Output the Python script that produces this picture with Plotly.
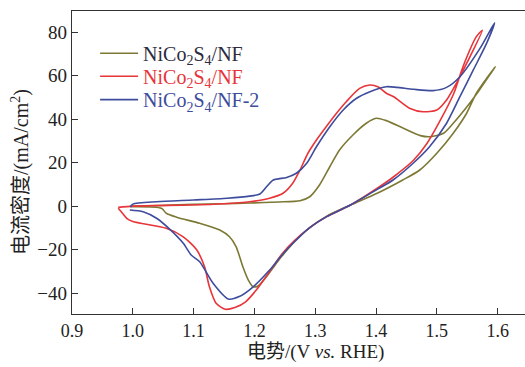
import plotly.graph_objects as go

# Curve 1: NiCo2S4/NF (olive) - closed CV loop, forward then reverse
x_a = [0.996, 1.047, 1.10, 1.15, 1.192, 1.24, 1.275, 1.291, 1.307, 1.324, 1.340, 1.362, 1.384, 1.40, 1.417,
       1.445, 1.473, 1.489, 1.511, 1.527, 1.554, 1.57, 1.596,
       1.565, 1.549, 1.527, 1.50, 1.472, 1.444, 1.402, 1.358, 1.319, 1.29, 1.265, 1.245, 1.23, 1.218, 1.206,
       1.198, 1.19, 1.181, 1.17, 1.159, 1.143, 1.11, 1.072, 1.055, 1.047, 0.996]
y_a = [0.0, 0.4, 0.9, 1.2, 1.5, 2.0, 2.6, 4.4, 9.8, 18.2, 25.9, 32.8, 38.2, 40.5, 39.4,
       35.9, 32.5, 32.0, 33.6, 38.2, 47.4, 53.5, 64.2,
       52.0, 42.8, 33.6, 24.4, 16.7, 12.1, 6.0, 0.6, -4.5, -10.0, -16.5, -23.0, -28.5, -33.0, -36.6,
       -37.0, -33.9, -27.8, -18.6, -14.0, -10.9, -7.8, -5.0, -3.2, -0.9, -0.2]

# Curve 2: NiCo2S4/NF (red)
x_b = [0.976, 1.0, 1.094, 1.15, 1.192, 1.225, 1.247, 1.263, 1.275, 1.288, 1.302, 1.318, 1.335, 1.351, 1.373,
       1.39, 1.403, 1.417, 1.429, 1.456, 1.477, 1.50, 1.516, 1.538, 1.549, 1.575,
       1.565, 1.543, 1.528, 1.506, 1.484, 1.462, 1.429, 1.402, 1.358, 1.319, 1.29, 1.265, 1.245, 1.225, 1.203,
       1.185, 1.168, 1.152, 1.137, 1.126, 1.118, 1.105, 1.083, 1.055, 1.0, 0.99, 0.981, 0.976]
y_b = [-0.5, 0.1, 0.6, 1.2, 2.1, 3.7, 6.0, 10.6, 16.7, 24.4, 30.5, 36.6, 42.8, 48.1, 54.2,
       55.8, 55.0, 52.0, 50.4, 45.0, 43.5, 44.3, 48.9, 59.6, 65.7, 81.0,
       78.0, 64.2, 52.0, 39.7, 29.0, 21.3, 13.6, 8.3, 0.6, -4.75, -10.0, -16.0, -22.0, -30.0, -38.5,
       -44.0, -46.5, -47.3, -44.6, -37.0, -27.8, -20.0, -14.0, -10.1, -7.0, -5.5, -2.5, -0.9]

# Curve 3: NiCo2S4/NF-2 (blue)
x_c = [0.996, 1.0, 1.039, 1.10, 1.155, 1.192, 1.209, 1.22, 1.231, 1.253, 1.269, 1.286, 1.302, 1.324, 1.346,
       1.368, 1.39, 1.417, 1.434, 1.462, 1.494, 1.516, 1.538, 1.571, 1.595,
       1.582, 1.56, 1.538, 1.516, 1.488, 1.461, 1.428, 1.402, 1.358, 1.319, 1.29, 1.265, 1.245, 1.225, 1.198,
       1.175, 1.157, 1.132, 1.11, 1.096, 1.083, 1.061, 1.039, 1.017, 0.995]
y_c = [-0.3, 1.0, 2.1, 2.9, 3.7, 4.7, 5.7, 9.0, 12.1, 13.3, 15.2, 19.8, 27.4, 36.6, 44.3,
       49.7, 52.7, 55.0, 54.7, 53.8, 53.2, 54.7, 59.6, 72.6, 84.4,
       75.0, 62.7, 50.4, 38.2, 27.4, 19.8, 12.1, 7.8, 0.6, -4.75, -10.0, -16.5, -22.5, -29.3, -37.0,
       -41.5, -42.6, -35.4, -25.5, -22.4, -17.0, -10.6, -5.5, -2.5, -1.7]

names = ['NiCo<sub>2</sub>S<sub>4</sub>/NF', 'NiCo<sub>2</sub>S<sub>4</sub>/NF', 'NiCo<sub>2</sub>S<sub>4</sub>/NF-2']
line_colors = ['#7d7935', '#e8353a', '#3e4c9c']
text_colors = ['#2e2b3e', '#e8353a', '#3e4c9c']

x_ticks = [0.9, 1.0, 1.1, 1.2, 1.3, 1.4, 1.5, 1.6]
y_ticks = [-40, -20, 0, 20, 40, 60, 80]

FONT = '"Liberation Serif", "Times New Roman", Times, "Noto Sans CJK SC", serif'

fig = go.Figure()
legend_ids = ['legend', 'legend2', 'legend3']
for xs, ys, nm, lc, tc, lg in zip([x_a, x_b, x_c], [y_a, y_b, y_c], names, line_colors, text_colors, legend_ids):
    fig.add_trace(go.Scatter(
        x=xs, y=ys, mode='lines',
        name=f'<span style="color:{tc}">{nm}</span>',
        legend=lg,
        line=dict(color=lc, width=1.6, shape='spline', smoothing=0.7),
    ))

leg_common = dict(x=0.051, xanchor='left', yanchor='top', bgcolor='rgba(0,0,0,0)', borderwidth=0,
                  font=dict(family=FONT, size=20), itemwidth=38)
fig.update_layout(
    width=525, height=367,
    margin=dict(l=72, r=0, t=11, b=53),
    paper_bgcolor='white', plot_bgcolor='white',
    font=dict(family=FONT, size=20, color='#222'),
    showlegend=True,
    legend=dict(y=0.925, **leg_common),
    legend2=dict(y=0.849, **leg_common),
    legend3=dict(y=0.772, **leg_common),
)
fig.update_xaxes(
    range=[0.9, 1.645], tickvals=x_ticks, ticktext=[f'{v:.1f}' for v in x_ticks],
    ticks='inside', ticklen=6, tickwidth=1, tickcolor='#333',
    showline=True, linecolor='#333', linewidth=1.3, mirror=True,
    showgrid=False, zeroline=False, tickfont=dict(family=FONT, size=18, color='#222'),
)
fig.update_yaxes(
    range=[-49.5, 89.8], tickvals=y_ticks, ticktext=[str(v).replace('-', '\u2212') for v in y_ticks],
    ticks='inside', ticklen=6, tickwidth=1, tickcolor='#333',
    showline=True, linecolor='#333', linewidth=1.3, mirror=False,
    showgrid=False, zeroline=False, tickfont=dict(family=FONT, size=19, color='#222'),
)
fig.add_annotation(text='电势/(V <i>vs.</i> RHE)', xref='x', yref='paper', x=1.3, y=-0.126,
                   xanchor='center', yanchor='middle', showarrow=False,
                   font=dict(family=FONT, size=19, color='#222'))
fig.add_annotation(text='电流密度/(mA/cm<sup>2</sup>)', xref='paper', yref='paper',
                   x=(20 - 72) / 453, y=(314 - 172) / 303, textangle=-90,
                   xanchor='center', yanchor='middle', showarrow=False,
                   font=dict(family=FONT, size=20, color='#222'))

fig.write_html('out.html')
